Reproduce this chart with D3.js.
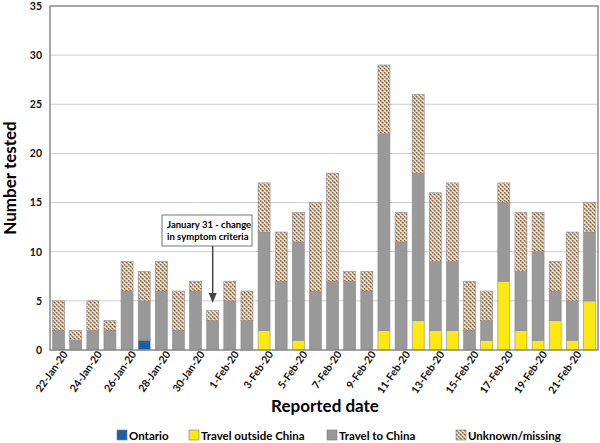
<!DOCTYPE html>
<html>
<head>
<meta charset="utf-8">
<script src="https://cdn.jsdelivr.net/npm/d3@7"></script>
<style>
  body { margin: 0; background: #fff; }
  svg text { font-family: Lato, "Open Sans", sans-serif; }
</style>
</head>
<body>
<div id="chart"></div>
<script>
var dates = ["22-Jan-20","23-Jan-20","24-Jan-20","25-Jan-20","26-Jan-20","27-Jan-20","28-Jan-20","29-Jan-20",
  "30-Jan-20","31-Jan-20","1-Feb-20","2-Feb-20","3-Feb-20","4-Feb-20","5-Feb-20","6-Feb-20",
  "7-Feb-20","8-Feb-20","9-Feb-20","10-Feb-20","11-Feb-20","12-Feb-20","13-Feb-20","14-Feb-20",
  "15-Feb-20","16-Feb-20","17-Feb-20","18-Feb-20","19-Feb-20","20-Feb-20","21-Feb-20","22-Feb-20"];
var ontario       = [0,0,0,0,0,1,0,0, 0,0,0,0,0,0,0,0, 0,0,0,0,0,0,0,0, 0,0,0,0,0,0,0,0];
var travelOutside = [0,0,0,0,0,0,0,0, 0,0,0,0,2,0,1,0, 0,0,0,2,0,3,2,2, 0,1,7,2,1,3,1,5];
var travelChina   = [2,1,2,2,6,4,6,2, 6,3,5,3,10,7,10,6, 7,7,6,20,11,15,7,7, 2,2,8,6,9,3,4,7];
var unknown       = [3,1,3,1,3,3,3,4, 1,1,2,3,5,5,3,9, 11,1,2,7,3,8,7,8, 5,3,2,6,4,3,7,3];
var yTicks = [0,5,10,15,20,25,30,35];
var keys = ["ontario","outside","china","unknown"];
var labels = {ontario: "Ontario", outside: "Travel outside China", china: "Travel to China", unknown: "Unknown/missing"};

var W = 600, H = 443;
var m = {top: 6, left: 50, right: 2, bottom: 93};
var iw = W - m.left - m.right, ih = H - m.top - m.bottom;

var rows = dates.map(function(d, i) {
  return {date: d, ontario: ontario[i], outside: travelOutside[i], china: travelChina[i], unknown: unknown[i]};
});

var svg = d3.select("#chart").append("svg").attr("width", W).attr("height", H);

var defs = svg.append("defs");
var pat = defs.append("pattern").attr("id", "hatch").attr("patternUnits", "userSpaceOnUse")
  .attr("width", 4).attr("height", 4);
pat.append("rect").attr("width", 4).attr("height", 4).attr("fill", "#fbf6f0");
pat.append("path").attr("d", "M0,0L4,4M-1,3L1,5M3,-1L5,1")
  .attr("stroke", "#9a5a30").attr("stroke-width", 1.5).attr("stroke-dasharray", "2.2,0.6");

var fills = {ontario: "#1d5ea8", outside: "#fde910", china: "#999999", unknown: "url(#hatch)"};

var x = d3.scaleBand().domain(dates).range([0, iw]).paddingInner(0.3).paddingOuter(0.15);
var y = d3.scaleLinear().domain([0, 35]).range([ih, 0]);

var g = svg.append("g").attr("transform", "translate(" + m.left + "," + m.top + ")");

// gridlines
g.append("g").selectAll("line").data(yTicks.slice(1, -1)).enter().append("line")
  .attr("x1", 0).attr("x2", iw).attr("y1", function(d) { return y(d); }).attr("y2", function(d) { return y(d); })
  .attr("stroke", "#cfcfcf").attr("stroke-width", 1);

var stack = d3.stack().keys(keys)(rows);
g.append("g").selectAll("g").data(stack).enter().append("g")
  .attr("fill", function(s) { return fills[s.key]; })
  .selectAll("rect").data(function(s) { return s.filter(function(d) { return d[1] > d[0]; }); })
  .enter().append("rect")
  .attr("x", function(d) { return x(d.data.date); })
  .attr("width", x.bandwidth())
  .attr("y", function(d) { return y(d[1]); })
  .attr("height", function(d) { return y(d[0]) - y(d[1]); })
  .attr("stroke", "#8c8c8c").attr("stroke-width", 0.6);

// frame
g.append("rect").attr("width", iw).attr("height", ih).attr("fill", "none")
  .attr("stroke", "#8a8a8a").attr("stroke-width", 1.5);

// y axis
var yAxis = d3.axisLeft(y).tickValues(yTicks).tickSize(0).tickPadding(8);
g.append("g").call(yAxis).call(function(a) {
  a.select(".domain").remove();
  a.selectAll("text").attr("font-size", 10.5).attr("font-weight", "bold").attr("fill", "#111");
});

// x axis
var xAxis = d3.axisBottom(x).tickSize(0).tickPadding(4)
  .tickValues(dates.filter(function(d, i) { return i % 2 === 0; }));
g.append("g").attr("transform", "translate(0," + ih + ")").call(xAxis).call(function(a) {
  a.select(".domain").remove();
  a.selectAll("text").attr("font-size", 10.5).attr("font-weight", "bold").attr("fill", "#111")
    .attr("text-anchor", "end").attr("dx", "0.2em").attr("dy", "0.6em")
    .attr("transform", "rotate(-55)");
});

// axis titles
svg.append("text").attr("x", 325).attr("y", 412).attr("text-anchor", "middle")
  .attr("font-size", 17).attr("font-weight", "bold").text("Reported date");
svg.append("text").attr("transform", "translate(16," + (m.top + ih / 2) + ") rotate(-90)")
  .attr("text-anchor", "middle").attr("font-size", 17).attr("font-weight", "bold").text("Number tested");

// annotation
var ax = x("31-Jan-20") + x.bandwidth() / 2;
var note = g.append("g");
note.append("rect").attr("x", 112).attr("y", 209).attr("width", 90).attr("height", 31)
  .attr("fill", "#fff").attr("stroke", "#777").attr("stroke-width", 1);
note.append("text").attr("x", 117).attr("y", 222).attr("font-size", 9.5).attr("font-weight", "bold")
  .text("January 31 - change");
note.append("text").attr("x", 117).attr("y", 234).attr("font-size", 9.5).attr("font-weight", "bold")
  .text("in symptom criteria");
note.append("line").attr("x1", ax).attr("x2", ax).attr("y1", 240).attr("y2", 290)
  .attr("stroke", "#444").attr("stroke-width", 1.5);
note.append("path").attr("d", "M" + (ax - 4) + ",287L" + (ax + 4) + ",287L" + ax + ",297Z").attr("fill", "#444");

// legend
var legX = {ontario: 117, outside: 189, china: 327, unknown: 456};
var leg = svg.append("g").selectAll("g").data(keys).enter().append("g")
  .attr("transform", function(k) { return "translate(" + legX[k] + ",430)"; });
leg.append("rect").attr("width", 10).attr("height", 10)
  .attr("fill", function(k) { return fills[k]; }).attr("stroke", "#777").attr("stroke-width", 0.6);
leg.append("text").attr("x", 12).attr("y", 9.5).attr("font-size", 11.5).attr("font-weight", "bold")
  .text(function(k) { return labels[k]; });
</script>
</body>
</html>
